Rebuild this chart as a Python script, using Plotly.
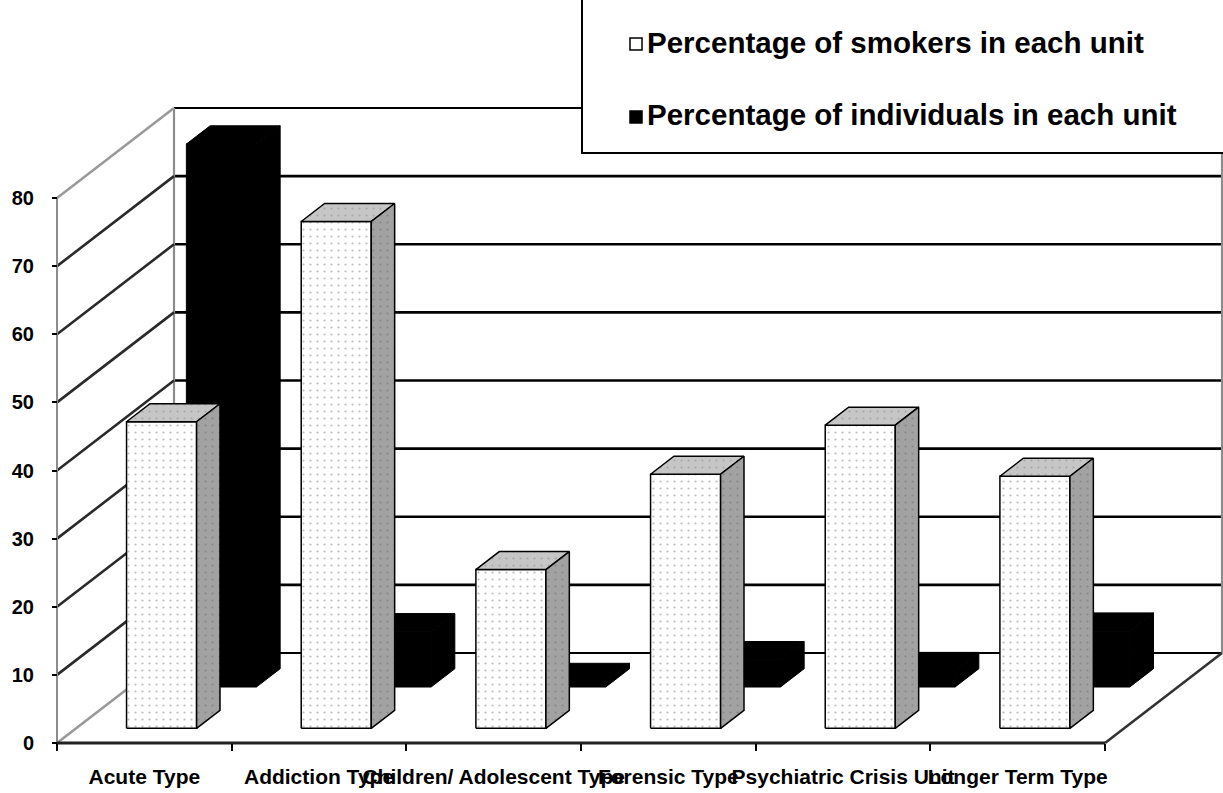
import plotly.graph_objects as go

# ---- data ---------------------------------------------------------------
categories = [
    "Acute Type",
    "Addiction Type",
    "Children/ Adolescent Type",
    "Forensic Type",
    "Psychiatric Crisis Unit",
    "Longer Term Type",
]
smokers_pct = [45.0, 74.4, 23.3, 37.3, 44.5, 37.0]
individuals_pct = [79.7, 8.1, 0.8, 4.0, 2.4, 8.2]
y_ticks = [0, 10, 20, 30, 40, 50, 60, 70, 80]
series_names = [
    "Percentage of smokers in each unit",
    "Percentage of individuals in each unit",
]

# ---- oblique 3-D projection ---------------------------------------------
PX_CAT = 174.67          # pixels per category slot
PX_VAL = 6.8125          # pixels per percentage point
DEPTH_X = 117 / PX_CAT   # horizontal shift of the full depth, in category units
DEPTH_Y = 90 / PX_VAL    # vertical shift of the full depth, in value units
WALL_TOP = y_ticks[-1]
N = len(categories)

# plot-area box in pixels (axes are placed "free" at the front plane)
W, H = 1223, 793
ORIGIN_X, ORIGIN_Y = 57, 743
L, R, T, B = 48, 1223, 100, 752


def proj(x, v, d):
    return x + d * DEPTH_X, v + d * DEPTH_Y


def paper_x(px):
    return (px - L) / (R - L)


def paper_y(py):
    return (B - py) / (B - T)


def add_poly(store, pts):
    for x, v, d in pts + [pts[0]]:
        X, Y = proj(x, v, d)
        store[0].append(X)
        store[1].append(Y)
    store[0].append(None)
    store[1].append(None)


def bar_faces(values, x_off, width, d0, d1):
    front, top, side = ([], []), ([], []), ([], [])
    for i, h in enumerate(values):
        x0 = i + x_off
        x1 = x0 + width
        add_poly(front, [(x0, 0, d0), (x1, 0, d0), (x1, h, d0), (x0, h, d0)])
        add_poly(top, [(x0, h, d0), (x1, h, d0), (x1, h, d1), (x0, h, d1)])
        add_poly(side, [(x1, 0, d0), (x1, 0, d1), (x1, h, d1), (x1, h, d0)])
    return front, top, side


def seg_trace(segs, color, width, dash="solid"):
    xs, ys = [], []
    for (xa, va, da), (xb, vb, db) in segs:
        for p in ((xa, va, da), (xb, vb, db)):
            X, Y = proj(*p)
            xs.append(X)
            ys.append(Y)
        xs.append(None)
        ys.append(None)
    return go.Scatter(x=xs, y=ys, mode="lines", hoverinfo="skip", showlegend=False,
                      line=dict(color=color, width=width, dash=dash))


def face_trace(store, fill, dots, bg, edge="black", ew=1.5):
    kw = {}
    if dots:
        kw["fillpattern"] = dict(shape=".", fgcolor=dots, bgcolor=bg, size=7, solidity=0.08)
    return go.Scatter(x=store[0], y=store[1], mode="lines", fill="toself",
                      fillcolor=fill, line=dict(color=edge, width=ew),
                      hoverinfo="skip", showlegend=False, **kw)


traces = []

# back wall grid and its frame
inner = [v for v in y_ticks if 0 < v < WALL_TOP]
traces.append(seg_trace([((0, v, 1), (N, v, 1)) for v in inner], "black", 2.6))
traces.append(seg_trace([((0, 0, 1), (N, 0, 1)), ((0, WALL_TOP, 1), (N, WALL_TOP, 1))], "black", 2.2))
traces.append(seg_trace([((0, 0, 1), (0, WALL_TOP, 1)), ((N, 0, 1), (N, WALL_TOP, 1))], "#8c8c8c", 2.2))

# left side wall
traces.append(seg_trace([((0, v, 0), (0, v, 1)) for v in inner], "#2a2a2a", 2.6))
traces.append(seg_trace([((0, 0, 0), (0, 0, 1)), ((0, WALL_TOP, 0), (0, WALL_TOP, 1))], "#9a9a9a", 2.6))

# right floor edge
traces.append(seg_trace([((N, 0, 0), (N, 0, 1))], "#333333", 2.6))

# back row: individuals (solid black)
bf, bt, bs = bar_faces(individuals_pct, 0.324, 0.401, 0.622, 0.825)
for face in (bf, bt, bs):
    traces.append(face_trace(face, "black", None, None, edge="black", ew=1))

# front row: smokers (dotted white, grey top and side)
wf, wt, ws = bar_faces(smokers_pct, 0.289, 0.401, 0.163, 0.363)
traces.append(face_trace(wf, "white", "#7a7a7a", "white"))
traces.append(face_trace(wt, "#c6c6c6", "#8a8a8a", "#c6c6c6"))
traces.append(face_trace(ws, "#a2a2a2", "#6e6e6e", "#a2a2a2"))

# front axis lines
traces.append(seg_trace([((0, 0, 0), (0, WALL_TOP, 0))], "#8c8c8c", 2))
traces.append(seg_trace([((0, 0, 0), (N, 0, 0))], "#222222", 3))

fig = go.Figure(traces)

x_range = [(L - ORIGIN_X) / PX_CAT, (R - ORIGIN_X) / PX_CAT]
y_range = [-(B - ORIGIN_Y) / PX_VAL, (ORIGIN_Y - T) / PX_VAL]

x_tick_font = dict(family="Liberation Sans, Arial, sans-serif", size=21, color="black", weight="bold")
y_tick_font = dict(family="Liberation Sans, Arial, sans-serif", size=20, color="black", weight="bold")

fig.update_layout(
    width=W, height=H,
    margin=dict(l=L, r=W - R, t=T, b=H - B),
    paper_bgcolor="white", plot_bgcolor="white",
    showlegend=False,
    xaxis=dict(
        range=x_range, anchor="free", position=paper_y(ORIGIN_Y),
        showgrid=False, zeroline=False, showline=False,
        tickmode="array", tickvals=[i + 0.5 for i in range(N)], ticktext=categories,
        ticks="", tickangle=0, tickfont=x_tick_font, ticklabelstandoff=19,
        minor=dict(tickmode="array", tickvals=list(range(N + 1)), ticks="outside",
                   ticklen=7, tickwidth=2, tickcolor="black", showgrid=False),
    ),
    yaxis=dict(
        range=y_range, anchor="free", position=paper_x(ORIGIN_X),
        showgrid=False, zeroline=False, showline=False,
        tickmode="array", tickvals=y_ticks, ticktext=[str(v) for v in y_ticks],
        ticks="outside", ticklen=5, tickwidth=2, tickcolor="black",
        tickfont=y_tick_font, ticklabelstandoff=14,
    ),
)

# legend box
legend_left, legend_bottom = 582, 153
fig.add_shape(type="rect", xref="paper", yref="paper",
              x0=paper_x(legend_left), x1=paper_x(1240), y0=paper_y(legend_bottom), y1=paper_y(-10),
              line=dict(color="black", width=2), fillcolor="white", layer="above")

key_fills = ["white", "black"]
key_centers = [44, 117]
legend_font = dict(family="Liberation Sans, Arial, sans-serif", size=29.5, color="black", weight="bold")
for name, fill, cy in zip(series_names, key_fills, key_centers):
    fig.add_shape(type="rect", xref="paper", yref="paper",
                  x0=paper_x(630), x1=paper_x(642), y0=paper_y(cy + 6), y1=paper_y(cy - 6),
                  line=dict(color="black", width=1.5), fillcolor=fill, layer="above")
    fig.add_annotation(xref="paper", yref="paper", x=paper_x(645), y=paper_y(cy - 2),
                       xanchor="left", yanchor="middle", showarrow=False,
                       text=name, font=legend_font)

fig.write_html("out.html")
